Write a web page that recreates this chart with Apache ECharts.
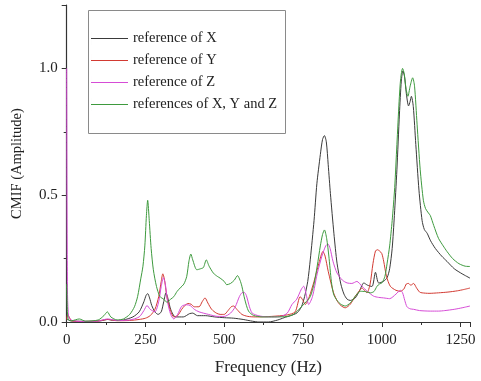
<!DOCTYPE html>
<html>
<head>
<meta charset="utf-8">
<script src="https://cdn.jsdelivr.net/npm/echarts@6/dist/echarts.min.js"></script>
<style>html,body{margin:0;padding:0;background:#fff}#c{width:481px;height:381px}</style>
</head>
<body>
<div id="c"></div>
<script>
// ---- data ----
var seriesNames = ['reference of X', 'reference of Y', 'reference of Z', 'references of X, Y and Z'];

var freqX = [0,3,10,40,80,110,130,150,180,210,230,245,252,257,263,270,280,290,300,308,315,322,330,345,370,390,400,415,440,470,500,530,560,590,610,640,670,690,710,731,745,755,765,773,785,794,805,812,818,824,830,837,848,858,870,880,890,900,916,930,943,955,969,980,990,1005,1017,1025,1033,1040,1048,1056,1062,1067,1072,1078,1085,1090,1094,1100,1108,1118,1128,1135,1144,1155,1170,1190,1207,1230,1255,1280];
var valX = [0.01,0.01,0.005,0.003,0.003,0.005,0.01,0.006,0.008,0.02,0.04,0.08,0.105,0.112,0.095,0.065,0.04,0.03,0.04,0.08,0.115,0.09,0.05,0.02,0.02,0.033,0.035,0.025,0.025,0.02,0.017,0.015,0.01,0.003,0.0,0.0,0.008,0.017,0.025,0.036,0.06,0.1,0.16,0.245,0.4,0.545,0.66,0.72,0.735,0.71,0.62,0.506,0.35,0.232,0.15,0.11,0.09,0.085,0.095,0.125,0.154,0.145,0.14,0.196,0.154,0.16,0.175,0.21,0.29,0.42,0.6,0.82,0.95,0.99,0.97,0.9,0.852,0.87,0.89,0.85,0.7,0.52,0.4,0.365,0.35,0.32,0.29,0.26,0.239,0.21,0.19,0.173];

var freqY = [0,3,8,15,50,100,130,160,200,230,250,265,280,292,300,305,310,318,328,340,352,365,375,385,395,405,420,430,439,448,460,475,487,500,512,522,530,540,556,575,600,650,700,725,741,750,757,770,785,800,808,813,820,830,847,860,870,884,900,915,930,937,945,953,963,972,980,986,993,1000,1006,1015,1027,1045,1059,1070,1078,1085,1092,1101,1110,1120,1128,1150,1180,1210,1240,1260,1280];
var valY = [0.01,0.03,0.02,0.005,0.002,0.004,0.01,0.005,0.006,0.01,0.015,0.025,0.05,0.1,0.16,0.19,0.17,0.1,0.05,0.02,0.025,0.05,0.065,0.073,0.07,0.06,0.06,0.08,0.095,0.075,0.05,0.035,0.03,0.03,0.045,0.06,0.063,0.05,0.03,0.022,0.02,0.022,0.028,0.04,0.1,0.085,0.069,0.1,0.16,0.23,0.265,0.278,0.26,0.2,0.115,0.08,0.065,0.056,0.07,0.1,0.125,0.134,0.125,0.115,0.15,0.23,0.28,0.285,0.28,0.27,0.24,0.18,0.141,0.125,0.121,0.13,0.15,0.152,0.145,0.152,0.135,0.118,0.115,0.113,0.115,0.118,0.123,0.128,0.134];

var freqZ = [0,2,6,20,60,100,130,160,200,230,245,255,265,280,292,300,307,313,320,330,340,352,365,380,392,405,420,450,480,500,520,535,548,556,563,570,580,588,600,620,650,680,700,715,730,745,752,760,768,780,795,810,822,829,836,845,858,875,890,905,921,937,955,974,990,1006,1025,1045,1059,1066,1073,1080,1090,1101,1120,1154,1180,1200,1230,1255,1280];
var valZ = [1.0,0.2,0.02,0.005,0.002,0.004,0.012,0.006,0.008,0.02,0.045,0.065,0.05,0.04,0.08,0.14,0.175,0.15,0.08,0.03,0.012,0.03,0.062,0.068,0.065,0.05,0.04,0.03,0.022,0.022,0.035,0.06,0.1,0.115,0.117,0.105,0.06,0.036,0.028,0.022,0.02,0.022,0.035,0.069,0.09,0.13,0.141,0.11,0.069,0.1,0.19,0.26,0.3,0.308,0.29,0.24,0.193,0.165,0.154,0.152,0.16,0.141,0.12,0.102,0.097,0.095,0.092,0.11,0.125,0.115,0.085,0.06,0.052,0.05,0.045,0.043,0.043,0.045,0.05,0.056,0.063];

var freqXYZ = [0,2,5,15,40,60,100,118,129,140,160,180,200,215,225,235,242,248,253,257,262,268,275,285,296,308,318,330,340,350,360,372,381,388,394,400,413,425,434,443,452,466,478,487,500,508,520,532,542,550,556,565,577,593,620,660,700,720,741,760,773,785,795,805,812,818,825,832,840,847,858,870,884,900,915,932,948,964,975,985,993,1001,1010,1017,1025,1033,1041,1048,1055,1060,1066,1071,1077,1083,1090,1098,1104,1112,1122,1132,1139,1148,1154,1165,1180,1195,1207,1225,1245,1265,1280];
var valXYZ = [0.15,0.05,0.01,0.005,0.012,0.003,0.008,0.025,0.04,0.02,0.008,0.012,0.03,0.06,0.1,0.17,0.22,0.3,0.42,0.48,0.4,0.29,0.206,0.14,0.1,0.09,0.078,0.09,0.1,0.12,0.134,0.15,0.18,0.24,0.268,0.245,0.206,0.21,0.215,0.245,0.22,0.192,0.18,0.173,0.16,0.147,0.152,0.165,0.183,0.165,0.141,0.09,0.043,0.026,0.02,0.02,0.022,0.03,0.055,0.08,0.1,0.15,0.22,0.3,0.345,0.363,0.33,0.26,0.16,0.11,0.085,0.07,0.063,0.075,0.1,0.121,0.12,0.115,0.12,0.141,0.15,0.155,0.18,0.232,0.3,0.4,0.53,0.7,0.87,0.96,1.0,0.98,0.92,0.89,0.93,0.963,0.93,0.78,0.6,0.48,0.447,0.43,0.42,0.38,0.33,0.3,0.278,0.25,0.23,0.22,0.219];

var xTicks = [0, 250, 500, 750, 1000, 1250];
var yTicks = [0.0, 0.5, 1.0];

// ---- build ----
function pairs(f, v) { return f.map(function (x, i) { return [x, v[i]]; }); }
var colors = ['#3a3a3a', '#d23a32', '#d64cd6', '#3e9a3e'];
var dataSets = [pairs(freqX, valX), pairs(freqY, valY), pairs(freqZ, valZ), pairs(freqXYZ, valXYZ)];
var serif = '"Liberation Serif", "DejaVu Serif", serif';
// thin horizontal line icon (tiny invisible-width bar keeps the full item height)
var lineIcon = 'path://M0,0 L0.01,0 L0.01,14 L0,14 Z M0,6.6 L37,6.6 L37,7.6 L0,7.6 Z';

var chart = echarts.init(document.getElementById('c'), null, { renderer: 'canvas' });
chart.setOption({
  animation: false,
  backgroundColor: '#fff',
  color: colors,
  grid: { left: 66.7, right: 11, top: 5, bottom: 55, containLabel: false },
  legend: {
    data: seriesNames.map(function (n) { return { name: n, icon: lineIcon }; }),
    orient: 'vertical',
    left: 91, top: 31,
    padding: 0,
    itemWidth: 37, itemHeight: 14, itemGap: 7,
    textStyle: { fontFamily: serif, fontSize: 14.5, color: '#222' }
  },
  graphic: [{
    type: 'rect', left: 86, top: 8, z: 0,
    shape: { width: 197, height: 123 },
    style: { fill: 'none', stroke: '#8a8a8a', lineWidth: 1 }
  }],
  xAxis: {
    type: 'value', min: 0, max: 1280, interval: 250,
    name: 'Frequency (Hz)', nameLocation: 'middle', nameGap: 37,
    nameTextStyle: { fontFamily: serif, fontSize: 17, color: '#222' },
    axisLine: { lineStyle: { color: '#333', width: 1.2 } },
    axisTick: { length: 5, lineStyle: { color: '#333' } },
    minorTick: { show: true, splitNumber: 2, length: 3, lineStyle: { color: '#333' } },
    splitLine: { show: false },
    axisLabel: {
      fontFamily: serif, fontSize: 15, color: '#222', margin: 11, showMaxLabel: false,
      formatter: function (v) { return xTicks.indexOf(v) >= 0 ? String(v) : ''; }
    }
  },
  yAxis: {
    type: 'value', min: 0, max: 1.25, interval: 0.5,
    name: 'CMIF (Amplitude)', nameLocation: 'middle', nameGap: 42,
    nameTextStyle: { fontFamily: serif, fontSize: 14.5, color: '#222' },
    axisLine: { show: true, lineStyle: { color: '#333', width: 1.2 } },
    axisTick: { show: true, length: 5, lineStyle: { color: '#333' } },
    minorTick: { show: true, splitNumber: 2, length: 3, lineStyle: { color: '#333' } },
    splitLine: { show: false },
    axisLabel: {
      fontFamily: serif, fontSize: 15, color: '#222', margin: 9, showMaxLabel: false,
      formatter: function (v) {
        for (var i = 0; i < yTicks.length; i++) { if (Math.abs(yTicks[i] - v) < 1e-9) return v.toFixed(1); }
        return '';
      }
    }
  },
  series: seriesNames.map(function (n, i) {
    return {
      name: n, type: 'line', data: dataSets[i], showSymbol: false, symbol: 'none',
      smooth: 0.25, clip: true,
      lineStyle: { width: 1, color: colors[i] }, z: 2 + i
    };
  })
});
</script>
</body>
</html>
